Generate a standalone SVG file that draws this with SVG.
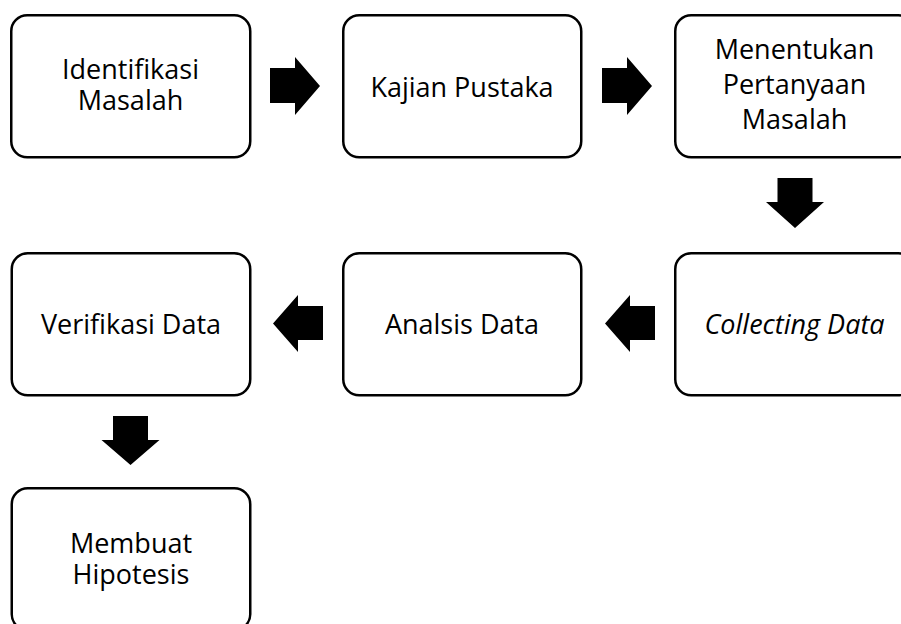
<svg xmlns="http://www.w3.org/2000/svg" width="901" height="624" viewBox="0 0 901 624">
<style>
.box{fill:#fff;stroke:#000;stroke-width:2.5}
.t{font-family:"Open Sans","Noto Sans",sans-serif;font-size:27px;fill:#000;text-anchor:middle}
.i{font-style:italic}
.arr{fill:#000;stroke:none}
</style>
<rect width="901" height="624" fill="#fff"/>
<g id="connectors">
<polygon class="arr" points="270,68 295,68 295,57 320,86 295,115 295,103 270,103"/>
<polygon class="arr" points="602,68 627,68 627,57 652,86 627,115 627,103 602,103"/>
<polygon class="arr" points="777.5,178 812.5,178 812.5,202 824,202 795,228 766,202 777.5,202"/>
<polygon class="arr" points="323,306 298,306 298,295 273,323.5 298,352 298,340 323,340"/>
<polygon class="arr" points="655,306 630,306 630,295 605,323.5 630,352 630,340 655,340"/>
<polygon class="arr" points="113,416 148,416 148,440 159.5,440 130.5,465 101.5,440 113,440"/>
</g>
<g id="n1"><rect class="box" x="11.25" y="15.25" width="239" height="142" rx="16"/>
<text class="t" x="130.5" y="79">Identifikasi</text><text class="t" x="130.5" y="110">Masalah</text></g>
<g id="n2"><rect class="box" x="343.25" y="15.25" width="238" height="142" rx="16"/>
<text class="t" x="462" y="97">Kajian Pustaka</text></g>
<g id="n3"><rect class="box" x="675.25" y="15.25" width="239" height="142" rx="16"/>
<text class="t" x="794.5" y="59">Menentukan</text><text class="t" x="794.5" y="94">Pertanyaan</text><text class="t" x="794.5" y="129">Masalah</text></g>
<g id="n4"><rect class="box" x="675.25" y="253.25" width="239" height="142" rx="16"/>
<text class="t i" x="794.5" y="334">Collecting Data</text></g>
<g id="n5"><rect class="box" x="343.25" y="253.25" width="238" height="142" rx="16"/>
<text class="t" x="462" y="334">Analsis Data</text></g>
<g id="n6"><rect class="box" x="11.75" y="253.25" width="238.5" height="142" rx="16"/>
<text class="t" x="131" y="334">Verifikasi Data</text></g>
<g id="n7"><rect class="box" x="11.75" y="488.25" width="238.5" height="142" rx="16"/>
<text class="t" x="131" y="553">Membuat</text><text class="t" x="131" y="584">Hipotesis</text></g>
</svg>
